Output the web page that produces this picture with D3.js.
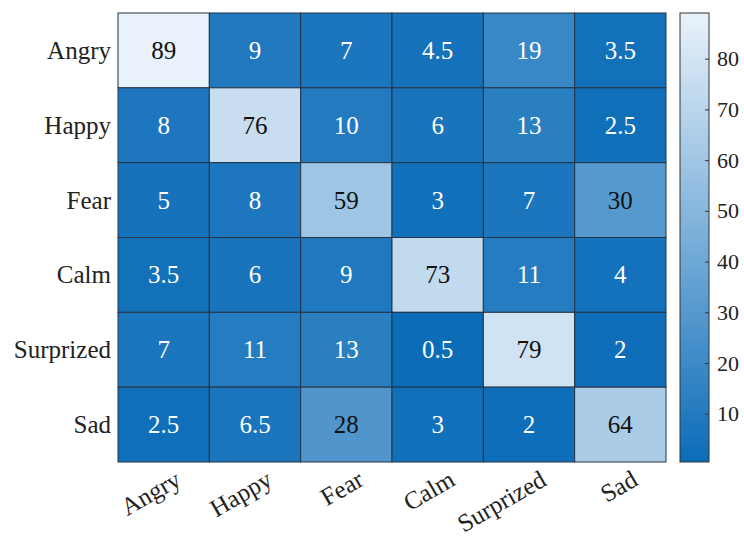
<!DOCTYPE html>
<html><head><meta charset="utf-8">
<script src="https://cdn.jsdelivr.net/npm/d3@7"></script>
<style>body{margin:0;background:#fff;} svg{display:block;}</style>
</head><body>
<svg id="c" width="744" height="540"></svg>
<script>
const rowLabels = ["Angry","Happy","Fear","Calm","Surprized","Sad"];
const colLabels = ["Angry","Happy","Fear","Calm","Surprized","Sad"];
const matrix = [
  [89, 9, 7, 4.5, 19, 3.5],
  [8, 76, 10, 6, 13, 2.5],
  [5, 8, 59, 3, 7, 30],
  [3.5, 6, 9, 73, 11, 4],
  [7, 11, 13, 0.5, 79, 2],
  [2.5, 6.5, 28, 3, 2, 64]
];
const colorTicks = [10,20,30,40,50,60,70,80];
const colorDomain = [0.5, 89];
const colorRange = ["#0b6cb8", "#e9f2fa"];

const svg = d3.select("#c");
const font = "'Liberation Serif','Times New Roman',serif";
const L = 118, R = 666, T = 13, B = 462;
const x = d3.scaleBand().domain(colLabels).range([L, R]);
const y = d3.scaleBand().domain(rowLabels).range([T, B]);
const color = d3.scaleLinear().domain(colorDomain).range(colorRange).interpolate(d3.interpolateRgb);

const cells = [];
matrix.forEach((row, i) => row.forEach((v, j) => cells.push({r: rowLabels[i], c: colLabels[j], v})));

svg.append("g").selectAll("rect").data(cells).join("rect")
  .attr("x", d => x(d.c)).attr("y", d => y(d.r))
  .attr("width", x.bandwidth()).attr("height", y.bandwidth())
  .attr("fill", d => color(d.v))
  .attr("stroke", "#243445").attr("stroke-width", 1);

svg.append("g").selectAll("text").data(cells).join("text")
  .attr("x", d => x(d.c) + x.bandwidth()/2)
  .attr("y", d => y(d.r) + y.bandwidth()/2)
  .attr("text-anchor", "middle").attr("dominant-baseline", "central")
  .attr("font-family", font).attr("font-size", 25)
  .attr("fill", d => d.v > 25 ? "#111" : "#fff")
  .text(d => d.v);

// y labels
svg.append("g").selectAll("text").data(rowLabels).join("text")
  .attr("x", L - 7).attr("y", d => y(d) + y.bandwidth()/2)
  .attr("text-anchor", "end").attr("dominant-baseline", "central")
  .attr("font-family", font).attr("font-size", 25).attr("fill", "#222")
  .text(d => d);

// x labels
svg.append("g").selectAll("text").data(colLabels).join("text")
  .attr("transform", d => `translate(${x(d) + x.bandwidth()/2 + 10},${B + 7}) rotate(-30)`)
  .attr("text-anchor", "end").attr("dy", "0.71em")
  .attr("font-family", font).attr("font-size", 25).attr("fill", "#222")
  .text(d => d);

// colorbar
const cbX = 680, cbW = 29;
const cy = d3.scaleLinear().domain(colorDomain).range([B, T]);
const defs = svg.append("defs");
const grad = defs.append("linearGradient").attr("id", "cbg")
  .attr("x1", 0).attr("y1", 1).attr("x2", 0).attr("y2", 0);
grad.append("stop").attr("offset", 0).attr("stop-color", colorRange[0]);
grad.append("stop").attr("offset", 1).attr("stop-color", colorRange[1]);
svg.append("rect").attr("x", cbX).attr("y", T).attr("width", cbW).attr("height", B - T)
  .attr("fill", "url(#cbg)").attr("stroke", "#333").attr("stroke-width", 1);

const cbAxis = d3.axisRight(cy).tickValues(colorTicks).tickSize(0).tickPadding(8);
const ga = svg.append("g").attr("transform", `translate(${cbX + cbW},0)`).call(cbAxis);
ga.select(".domain").remove();
ga.selectAll("text").attr("font-family", font).attr("font-size", 22).attr("fill", "#222");
ga.selectAll(".tick").append("line").attr("x1", 0).attr("x2", -4).attr("stroke", "#333");
</script>
</body></html>
